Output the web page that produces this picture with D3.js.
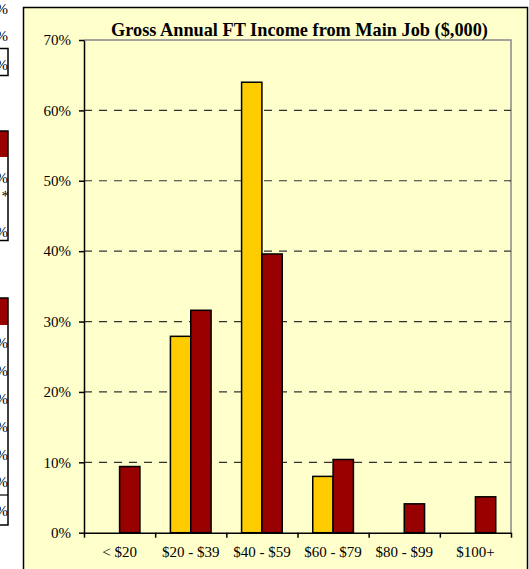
<!DOCTYPE html>
<html>
<head>
<meta charset="utf-8">
<script src="https://cdn.jsdelivr.net/npm/d3@7"></script>
<style>
  body { margin: 0; background: #fff; }
  svg { display: block; }
  svg text { font-family: "Liberation Serif", "Times New Roman", serif; }
</style>
</head>
<body>
<script>
// chart data
const categories = ["< $20", "$20 - $39", "$40 - $59", "$60 - $79", "$80 - $99", "$100+"];
const seriesNames = ["yellow", "maroon"];
const yellowValues = [0, 27.9, 64.0, 8.0, 0, 0];
const maroonValues = [9.4, 31.6, 39.6, 10.4, 4.1, 5.1];
const yTicks = [0, 10, 20, 30, 40, 50, 60, 70];
const gridTicks = [10, 20, 30, 40, 50, 60];
const title = "Gross Annual FT Income from Main Job ($,000)";
const colors = { yellow: "#FFCC00", maroon: "#990000" };

const W = 529, H = 569;
const plot = { left: 84, right: 511, top: 40, bottom: 532.7 };

const svg = d3.select("body").append("svg")
  .attr("width", W)
  .attr("height", H);

// bits of the neighbouring tables cut off at the left edge (clipped as in the source)
const frag = svg.append("g").attr("font-size", 15);
frag.append("clipPath").attr("id", "leftclip")
  .append("rect").attr("x", 0).attr("y", 0).attr("width", 8).attr("height", H);
const fragText = frag.append("g").attr("clip-path", "url(#leftclip)");
[14, 41, 70, 183, 237, 348, 376, 404, 432, 460, 487, 516].forEach(y => {
  fragText.append("text").attr("x", 8).attr("y", y).attr("text-anchor", "end").text("%");
});
fragText.append("text").attr("x", 9).attr("y", 201).attr("text-anchor", "end").text("*");
frag.append("rect").attr("x", 0).attr("y", 131).attr("width", 8).attr("height", 26).attr("fill", "#990000");
frag.append("rect").attr("x", 0).attr("y", 298).attr("width", 8).attr("height", 27).attr("fill", "#990000");
const fragLines = frag.append("g").attr("stroke", "#000").attr("stroke-width", 1.5).attr("fill", "none");
fragLines.append("path").attr("d", "M0,48.5H8V75.5H0");
fragLines.append("path").attr("d", "M0,131H8V240.5H0");
fragLines.append("path").attr("d", "M0,298H8V525H0");
frag.append("line").attr("x1", 0).attr("x2", 8).attr("y1", 495).attr("y2", 495)
  .attr("stroke", "#000").attr("stroke-width", 1.2);

// chart frame
svg.append("rect")
  .attr("x", 23.5).attr("y", 7.5)
  .attr("width", 504).attr("height", 580)
  .attr("fill", "#FFFFCC")
  .attr("stroke", "#000")
  .attr("stroke-width", 1.5);

const x = d3.scaleBand().domain(categories).range([plot.left, plot.right]).padding(0);
const xInner = d3.scaleBand().domain(seriesNames).range([0, x.bandwidth()])
  .paddingInner(0).paddingOuter(0.75);
const y = d3.scaleLinear().domain([0, 70]).range([plot.bottom, plot.top]);
const xEdges = d3.scaleLinear().domain([0, categories.length]).range([plot.left, plot.right]);

// plot area border (gray top/right)
svg.append("path")
  .attr("d", `M${plot.left},${y(70)}H${plot.right}V${plot.bottom}`)
  .attr("fill", "none")
  .attr("stroke", "#888")
  .attr("stroke-width", 1.5);

// dashed gridlines
svg.append("g")
  .selectAll("line")
  .data(gridTicks)
  .join("line")
    .attr("x1", plot.left).attr("x2", plot.right)
    .attr("y1", d => y(d)).attr("y2", d => y(d))
    .attr("stroke", "#333")
    .attr("stroke-width", 1.2)
    .attr("stroke-dasharray", "8,7");

// bars
const rows = categories.map((c, i) => ({ cat: c, yellow: yellowValues[i], maroon: maroonValues[i] }));
svg.append("g")
  .selectAll("g")
  .data(rows)
  .join("g")
    .attr("transform", d => `translate(${x(d.cat)},0)`)
  .selectAll("rect")
  .data(d => seriesNames.map(k => ({ key: k, value: d[k] })).filter(v => v.value > 0))
  .join("rect")
    .attr("x", d => xInner(d.key))
    .attr("y", d => y(d.value))
    .attr("width", xInner.bandwidth())
    .attr("height", d => y(0) - y(d.value))
    .attr("fill", d => colors[d.key])
    .attr("stroke", "#000")
    .attr("stroke-width", 1.5);

// y axis
const yAxis = svg.append("g")
  .attr("transform", `translate(${plot.left},0)`)
  .call(d3.axisLeft(y).tickValues(yTicks).tickFormat(d => d + "%").tickSize(5).tickPadding(8).tickSizeOuter(0))
  .attr("font-family", null)
  .attr("font-size", 15);
yAxis.selectAll("text").attr("fill", "#000");
yAxis.selectAll("line, path").attr("stroke", "#000").attr("stroke-width", 1.5);

// x axis: ticks at category edges, labels at centres
const xAxis = svg.append("g")
  .attr("transform", `translate(0,${plot.bottom})`)
  .call(d3.axisBottom(xEdges).ticks(categories.length).tickFormat("").tickSize(5).tickSizeOuter(0));
xAxis.selectAll("line, path").attr("stroke", "#000").attr("stroke-width", 1.5);

const xLabels = svg.append("g")
  .attr("transform", `translate(0,${plot.bottom})`)
  .call(d3.axisBottom(x).tickSize(0).tickPadding(14))
  .attr("font-family", null)
  .attr("font-size", 15);
xLabels.select(".domain").remove();
xLabels.selectAll("text").attr("fill", "#000");

// title
svg.append("text")
  .attr("x", 299.5)
  .attr("y", 36)
  .attr("text-anchor", "middle")
  .attr("font-size", 18.3)
  .attr("font-weight", "bold")
  .text(title);
</script>
</body>
</html>
